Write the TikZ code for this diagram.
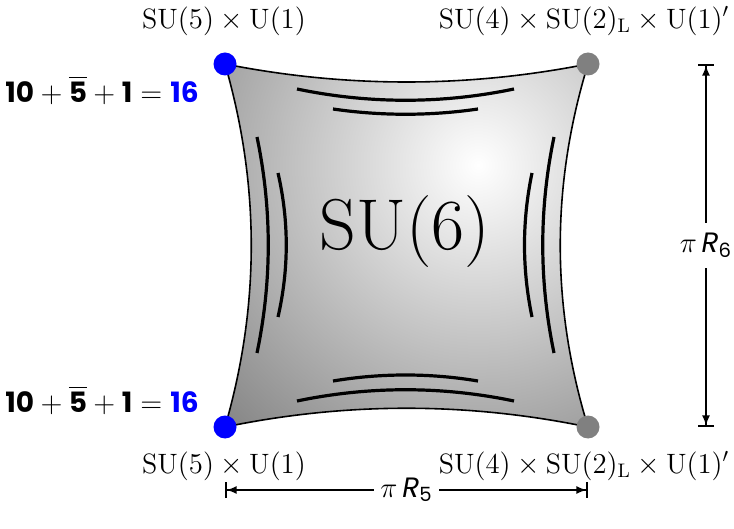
\documentclass[tikz,border=0pt]{standalone}
\usepackage{fontspec}
\usepackage{amsmath}
\newfontfamily\geofont{Poppins}
\usetikzlibrary{arrows.meta,calc}
\definecolor{BraneOuter}{gray}{0.5}
\definecolor{DotGray}{RGB}{128,128,128}
\pgfdeclareradialshading{brane}{\pgfpoint{0bp}{0bp}}{color(0bp)=(white); color(25bp)=(BraneOuter); color(50bp)=(BraneOuter)}
\newcommand{\gnum}[1]{\mbox{\geofont\bfseries #1}}

\begin{document}
\begin{tikzpicture}[x=0.5pt,y=-0.5pt,
  corner/.style={circle,inner sep=0pt,minimum size=11.5pt},
  bluedot/.style={corner,fill=blue},
  graydot/.style={corner,fill=DotGray},
  edge/.style={line width=0.8pt},
  strip/.style={line width=1.6pt},
  grouplabel/.style={font=\fontsize{14}{17}\selectfont,inner sep=2pt},
  multlabel/.style={font=\fontsize{14}{17}\selectfont},
  dimline/.style={line width=0.8pt,
    {Bar[width=8pt]Latex[length=5pt,width=4pt]}-{Latex[length=5pt,width=4pt]Bar[width=8pt]}},
  dimlabel/.style={fill=white,inner xsep=3pt,inner ysep=5pt,font=\fontsize{14}{17}\selectfont},
]
\useasboundingbox (0,0) rectangle (734,529);
\coordinate (tl) at (225,64);
\coordinate (tr) at (588,64);
\coordinate (br) at (588,427);
\coordinate (bl) at (225,427);

% shaded surface
\begin{scope}
\clip (tl) .. controls (346,88) and (467,88) .. (tr)
  .. controls (551,185) and (551,306) .. (br)
  .. controls (467,402) and (346,402) .. (bl)
  .. controls (260,306) and (260,185) .. (tl) -- cycle;
\shade[shading=brane] (478,165) circle[radius=380];
\end{scope}
\draw[edge] (tl) .. controls (346,88) and (467,88) .. (tr)
  .. controls (551,185) and (551,306) .. (br)
  .. controls (467,402) and (346,402) .. (bl)
  .. controls (260,306) and (260,185) .. (tl) -- cycle;

% strips along the sides
\draw[strip] (297,89) .. controls (369,104) and (442,104) .. (514,89);
\draw[strip] (333,109) .. controls (381,116) and (430,116) .. (478,109);
\draw[strip] (333,381) .. controls (381,373) and (430,373) .. (478,381);
\draw[strip] (297,401) .. controls (369,386) and (442,386) .. (514,401);
\draw[strip] (257,137) .. controls (272,209) and (272,281) .. (257,353);
\draw[strip] (278,173) .. controls (289,221) and (289,269) .. (278,317);
\draw[strip] (554,137) .. controls (539,209) and (539,281) .. (554,353);
\draw[strip] (532,173) .. controls (522,221) and (522,269) .. (532,317);

\node[font=\fontsize{36}{42}\selectfont] (su6) at (405,232) {SU(6)};

\node[bluedot] (dottl) at (tl) {};
\node[graydot] (dottr) at (tr) {};
\node[bluedot] (dotbl) at (bl) {};
\node[graydot] (dotbr) at (br) {};

\node[grouplabel] (su5top) at (224,21) {$\mathrm{SU}(5)\times\mathrm{U}(1)$};
\node[grouplabel] (su4top) at (584,21) {$\mathrm{SU}(4)\times\mathrm{SU}(2)_{\mathrm{L}}\times\mathrm{U}(1)'$};
\node[grouplabel] (su5bot) at (224,466) {$\mathrm{SU}(5)\times\mathrm{U}(1)$};
\node[grouplabel] (su4bot) at (584,466) {$\mathrm{SU}(4)\times\mathrm{SU}(2)_{\mathrm{L}}\times\mathrm{U}(1)'$};

\node[multlabel] (multtop) at (102,90) {$\gnum{10}+\overline{\gnum{5}}+\gnum{1}=\gnum{\color{blue}16}$};
\node[multlabel] (multbot) at (102,400) {$\gnum{10}+\overline{\gnum{5}}+\gnum{1}=\gnum{\color{blue}16}$};

% radii
\coordinate (r6top) at (706,64);
\coordinate (r6bot) at (706,427);
\coordinate (r5left) at (225,490);
\coordinate (r5right) at (588,490);
\draw[dimline] (r6top) -- node[dimlabel] (r6) {$\pi\,\text{\geofont\itshape R}_{\text{\geofont 6}}$} (r6bot);
\draw[dimline] (r5left) -- node[dimlabel] (r5) {$\pi\,\text{\geofont\itshape R}_{\text{\geofont 5}}$} (r5right);
\end{tikzpicture}
\end{document}
